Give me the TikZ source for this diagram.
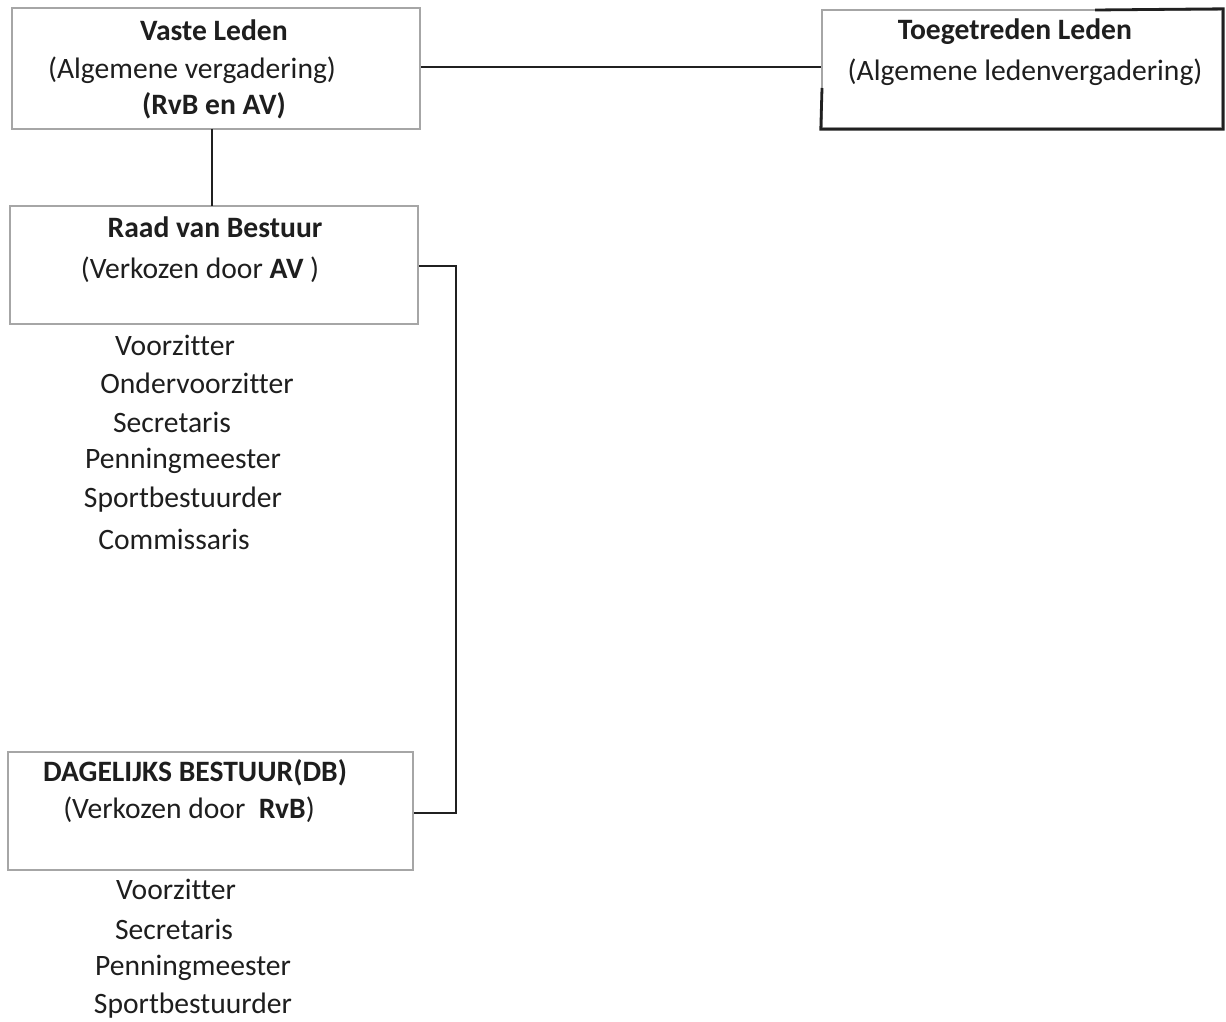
\documentclass[tikz,border=0pt]{standalone}
\usepackage{fontspec}
\setmainfont[Ligatures=NoCommon]{Carlito}
\usetikzlibrary{positioning}
\definecolor{ink}{HTML}{1E1E1E}
\definecolor{kader}{HTML}{A6A6A6}
\definecolor{lijn}{HTML}{202020}
\newcommand{\tekst}{\fontsize{14.8}{18}\selectfont}
\tikzset{blok/.style={draw=kader,line width=1.2pt,inner sep=0pt},
  regel/.style={inner sep=0pt,text=ink,font=\tekst},
  verbinding/.style={lijn,line width=1pt}}

\begin{document}
\begin{tikzpicture}[x=0.5pt,y=-0.5pt]
\useasboundingbox (0,0) rectangle (1226,1022);
% kaders
\node[blok,minimum width=204pt,minimum height=60.5pt] (vaste) at (216,68.5) {};
\node[blok,minimum width=200pt,minimum height=59pt] (toeg) at (1022,69) {};
\node[blok,minimum width=204pt,minimum height=59pt] (raad) at (214,265) {};
\node[blok,minimum width=202.5pt,minimum height=59pt] (dag) at (210.5,811) {};
% donkere randen van het tweede kader
\draw[lijn,line width=1.4pt] (1095,10) -- (toeg.north east) -- (toeg.south east)
  -- (toeg.south west) -- (822,88);
% teksten
\node[regel,font=\tekst\bfseries] (vasteA) at (214,30) {Vaste Leden};
\node[regel] (vasteB) at (192,70) {(Algemene vergadering)};
\node[regel,font=\tekst\bfseries] (vasteC) at (214,106) {(RvB en AV)};
\node[regel,font=\tekst\bfseries] (toegA) at (1015,32) {Toegetreden Leden};
\node[regel] (toegB) at (1025,72) {(Algemene ledenvergadering)};
\node[regel,font=\tekst\bfseries] (raadA) at (215,227) {Raad van Bestuur};
\node[regel] (raadB) at (200,270) {(Verkozen door \textbf{AV} )};
\node[regel,font=\tekst\bfseries] (dagA) at (195,773) {DAGELIJKS BESTUUR(DB)};
\node[regel] (dagB) at (189,810) {(Verkozen door\ \ \textbf{RvB})};
% leden raad van bestuur
\node[regel] (r1) at (175,345) {Voorzitter};
\node[regel] (r2) at (197,383) {Ondervoorzitter};
\node[regel] (r3) at (172,422) {Secretaris};
\node[regel] (r4) at (183,461) {Penningmeester};
\node[regel] (r5) at (183,500) {Sportbestuurder};
\node[regel] (r6) at (174,539) {Commissaris};
% leden dagelijks bestuur
\node[regel] (d1) at (176,889) {Voorzitter};
\node[regel] (d2) at (174,929) {Secretaris};
\node[regel] (d3) at (193,968) {Penningmeester};
\node[regel] (d4) at (193,1006) {Sportbestuurder};
% verbindingen
\coordinate (knik1) at (456,266);
\coordinate (knik2) at (456,813);
\draw[verbinding] (vaste.east |- 0,67) -- (toeg.west |- 0,67);
\draw[verbinding] (212,129) -- (212,206);
\draw[verbinding] (raad.east |- knik1) -- (knik1) -- (knik2) -- (dag.east |- knik2);
\end{tikzpicture}
\end{document}
